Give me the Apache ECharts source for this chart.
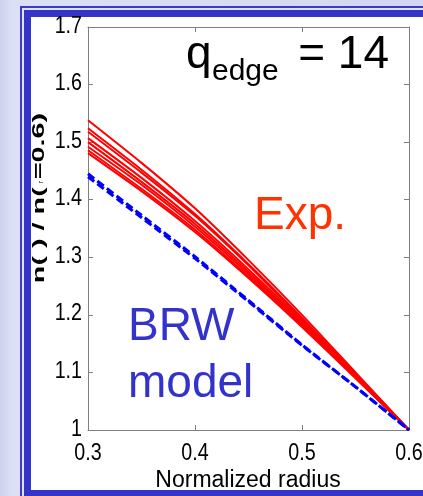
<!DOCTYPE html>
<html>
<head>
<meta charset="utf-8">
<script src="https://cdn.jsdelivr.net/npm/echarts@6/dist/echarts.min.js"></script>
<style>
  html, body { margin: 0; padding: 0; overflow: hidden; width: 423px; height: 496px; }
  body { position: relative; background: linear-gradient(90deg, #cdd1ee 0px, #dcdff5 12px, #d4d7f1 423px); }
  .frame { position: absolute; right: -40px; bottom: -40px; }
  #f1 { left: 20px; top: 6px; background: #3a3acb; }
  #f2 { left: 22px; top: 8px; background: #dfe1f6; }
  #f3 { left: 23.5px; top: 9.5px; background: #3434c9; }
  #f4 { left: 31px; top: 17px; bottom: 6px; background: #ffffff; }
  #chart { position: absolute; left: 0; top: 0; width: 423px; height: 496px; }
</style>
</head>
<body>
<div class="frame" id="f1"></div>
<div class="frame" id="f2"></div>
<div class="frame" id="f3"></div>
<div class="frame" id="f4"></div>
<div id="chart"></div>
<script>
// Normalized radius sample points
const radius = [0.3, 0.35, 0.4, 0.45, 0.5, 0.55, 0.6];

// Measured density profiles n(r)/n(r=0.6), one array per discharge
const exp1 = [1.538, 1.464, 1.385, 1.295, 1.200, 1.100, 1.0];
const exp2 = [1.524, 1.452, 1.375, 1.288, 1.195, 1.098, 1.0];
const exp3 = [1.518, 1.447, 1.372, 1.286, 1.192, 1.097, 1.0];
const exp4 = [1.507, 1.438, 1.363, 1.279, 1.189, 1.094, 1.0];
const exp5 = [1.500, 1.431, 1.358, 1.275, 1.186, 1.093, 1.0];
const exp6 = [1.492, 1.426, 1.353, 1.271, 1.184, 1.092, 1.0];
const exp7 = [1.486, 1.419, 1.348, 1.267, 1.181, 1.091, 1.0];
const exp8 = [1.481, 1.415, 1.344, 1.264, 1.179, 1.090, 1.0];

// BRW model predictions
const brwA = [1.445, 1.373, 1.301, 1.225, 1.148, 1.075, 1.0];
const brwB = [1.440, 1.369, 1.298, 1.223, 1.147, 1.075, 1.0];

// Axis ticks
const xTicks = [0.3, 0.4, 0.5, 0.6];
const yTicks = [1, 1.1, 1.2, 1.3, 1.4, 1.5, 1.6, 1.7];
const xTickLabels = ['0.3', '0.4', '0.5', '0.6'];
const yTickLabels = ['1', '1.1', '1.2', '1.3', '1.4', '1.5', '1.6', '1.7'];

const pairs = ys => radius.map((r, i) => [r, ys[i]]);
const textFont = "'Liberation Sans', Arial, sans-serif";
const boxGray = '#808080';

const expSeries = [exp1, exp2, exp3, exp4, exp5, exp6, exp7, exp8].map(ys => ({
  type: 'line', data: pairs(ys), showSymbol: false, smooth: 0.2,
  lineStyle: { color: '#ff0000', width: 2 }, z: 3
}));

const brwSeries = [brwA, brwB].map(ys => ({
  type: 'line', data: pairs(ys), showSymbol: false, smooth: 0.2,
  lineStyle: { color: '#0000ff', width: 3, type: [8, 4] }, z: 4
}));

const axisCommon = {
  type: 'value',
  axisLine: { show: true, onZero: false, lineStyle: { color: boxGray, width: 1 } },
  axisTick: { show: true, inside: true, length: 5, lineStyle: { color: boxGray, width: 1 } },
  axisLabel: { show: false },
  splitLine: { show: false }
};

function label(text, x, y, opts) {
  return Object.assign({
    type: 'text', z: 10, silent: true, x: x, y: y,
    style: Object.assign({
      text: text, font: '46px ' + textFont, fill: '#000',
      align: 'left', verticalAlign: 'middle', textAlign: 'left', textVerticalAlign: 'middle'
    }, opts && opts.style)
  }, opts && opts.el);
}

const chart = echarts.init(document.getElementById('chart'), null, { renderer: 'canvas', width: 423, height: 496 });

const titleFont = 'bold 16px ' + textFont;
const baseGraphics = [
  // axis titles
  label('Normalized radius', 248, 481, { style: { font: '23px ' + textFont, align: 'center', textAlign: 'center' } }),
  label('n( ) / n( =0.6)', 40, 198, {
    el: { rotation: Math.PI / 2, scaleX: 1.8, scaleY: 1 },
    style: { font: titleFont, align: 'center', textAlign: 'center' }
  }),
  label('r', 41, 260, { el: { rotation: Math.PI / 2 }, style: { font: '7px ' + textFont, align: 'center', textAlign: 'center' } }),
  label('r', 41, 182, { el: { rotation: Math.PI / 2 }, style: { font: '7px ' + textFont, align: 'center', textAlign: 'center' } }),

  // q_edge = 14
  label('q', 186, 55),
  label('edge', 212, 72, { style: { font: '30px ' + textFont } }),
  label('= 14', 389, 55, { style: { align: 'right', textAlign: 'right' } }),

  // series annotations
  label('Exp.', 254, 216, { style: { fill: '#ff3300' } }),
  label('BRW', 128, 327, { style: { fill: '#3333cc' } }),
  label('model', 128, 384, { style: { fill: '#3333cc' } })
];

chart.setOption({
  animation: false,
  backgroundColor: 'transparent',
  grid: { left: 88, right: 14, top: 27, bottom: 66, containLabel: false },
  xAxis: [
    Object.assign({}, axisCommon, { position: 'bottom', min: 0.3, max: 0.6, interval: 0.1 }),
    Object.assign({}, axisCommon, { position: 'top', min: 0.3, max: 0.6, interval: 0.1 })
  ],
  yAxis: [
    Object.assign({}, axisCommon, { position: 'left', min: 1, max: 1.7, interval: 0.1 }),
    Object.assign({}, axisCommon, { position: 'right', min: 1, max: 1.7, interval: 0.1 })
  ],
  series: expSeries.concat(brwSeries),
  graphic: { elements: baseGraphics }
});

// Tick labels in a condensed face, placed through the axis scales
const tickFont = '24px ' + textFont;
const xLabelEls = xTicks.map((v, i) => {
  const px = chart.convertToPixel({ xAxisIndex: 0 }, v);
  const py = chart.convertToPixel({ yAxisIndex: 0 }, 1);
  return label(xTickLabels[i], px, py + 23, {
    el: { scaleX: 0.82 },
    style: { font: tickFont, align: 'center', textAlign: 'center' }
  });
});
const yLabelEls = yTicks.map((v, i) => {
  const py = chart.convertToPixel({ yAxisIndex: 0 }, v);
  const px = chart.convertToPixel({ xAxisIndex: 0 }, 0.3);
  return label(yTickLabels[i], px - 6, py - 1, {
    el: { scaleX: 0.82 },
    style: { font: tickFont, align: 'right', textAlign: 'right' }
  });
});

chart.setOption({ graphic: { elements: baseGraphics.concat(xLabelEls, yLabelEls) } });
</script>
</body>
</html>
